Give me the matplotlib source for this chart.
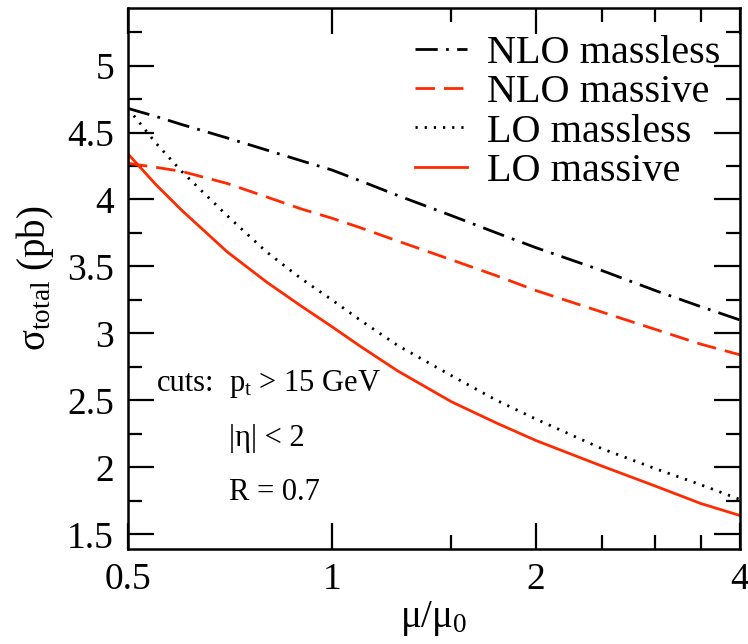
import numpy as np
import matplotlib
matplotlib.use('Agg')
import matplotlib.pyplot as plt
from matplotlib.ticker import FixedLocator, NullFormatter

plt.rcParams['font.family'] = ['Liberation Serif', 'DejaVu Serif']
plt.rcParams['mathtext.fontset'] = 'custom'
plt.rcParams['mathtext.rm'] = 'Liberation Serif'
plt.rcParams['mathtext.it'] = 'Liberation Serif:italic'
plt.rcParams['lines.scale_dashes'] = False

# mu / mu_0
mu_ratio = [0.5, 0.55, 0.6, 0.7, 0.8, 0.9, 1.0, 1.1, 1.25, 1.5, 1.75, 2.0, 2.5, 3.0, 3.5, 4.0]

# sigma_total (pb)
nlo_massless = [4.68, 4.62, 4.56, 4.46, 4.37, 4.29, 4.22, 4.14, 4.03, 3.88, 3.75, 3.64, 3.47, 3.32, 3.20, 3.10]
nlo_massive = [4.27, 4.24, 4.21, 4.12, 4.02, 3.93, 3.86, 3.79, 3.69, 3.55, 3.43, 3.32, 3.16, 3.03, 2.92, 2.84]
lo_massless = [4.68, 4.42, 4.21, 3.88, 3.61, 3.41, 3.25, 3.10, 2.91, 2.685, 2.50, 2.36, 2.14, 1.99, 1.87, 1.76]
lo_massive = [4.34, 4.11, 3.92, 3.61, 3.385, 3.205, 3.05, 2.905, 2.72, 2.49, 2.33, 2.20, 2.01, 1.86, 1.73, 1.64]

red = '#ff2a00'

fig = plt.figure(figsize=(7.48, 6.44), dpi=100)
ax = fig.add_axes([128 / 748, 1 - 549 / 644, 612 / 748, 541 / 644])

ax.plot(mu_ratio, nlo_massless, color='black', lw=2.0, dashes=(16, 6, 2, 6), label='NLO massless')
ax.plot(mu_ratio, nlo_massive, color=red, lw=2.0, dashes=(14, 6.5), label='NLO massive')
ax.plot(mu_ratio, lo_massless, color='black', lw=2.0, dashes=(1.6, 5), label='LO massless')
ax.plot(mu_ratio, lo_massive, color=red, lw=2.0, label='LO massive')

ax.set_xscale('log')
ax.set_xlim(0.5, 4)
ax.set_ylim(1.39, 5.43)
ax.xaxis.set_major_locator(FixedLocator([0.5, 1, 2, 4]))
ax.xaxis.set_minor_locator(FixedLocator([1.5, 2.5, 3, 3.5]))
ax.set_xticklabels(['0.5', '1', '2', '4'])
ax.xaxis.set_minor_formatter(NullFormatter())
ax.yaxis.set_major_locator(FixedLocator([1.5, 2, 2.5, 3, 3.5, 4, 4.5, 5]))
ax.yaxis.set_minor_locator(FixedLocator(np.arange(1.75, 5.4, 0.5)))
ax.set_yticklabels(['1.5', '2', '2.5', '3', '3.5', '4', '4.5', '5'])

ax.tick_params(which='both', direction='in', top=True, right=True, width=1.6, labelsize=27)
ax.tick_params(which='major', length=19, pad=10)
ax.tick_params(which='minor', length=10)
for s in ax.spines.values():
    s.set_linewidth(1.8)

ax.set_xlabel('μ/μ$_{0}$', fontsize=28, labelpad=1)
ax.set_ylabel('σ$_{\\mathrm{total}}$ (pb)', fontsize=28, labelpad=8)

ax.text(0.047, 0.305, 'cuts:', transform=ax.transAxes, fontsize=22, va='center')
ax.text(0.165, 0.305, 'p$_{\\mathrm{t}}$ > 15 GeV', transform=ax.transAxes, fontsize=22, va='center')
ax.text(0.165, 0.205, '|η| < 2', transform=ax.transAxes, fontsize=22, va='center')
ax.text(0.165, 0.105, 'R = 0.7', transform=ax.transAxes, fontsize=22, va='center')

ax.legend(loc='upper right', bbox_to_anchor=(0.995, 0.98), frameon=False, fontsize=29,
          handlelength=1.3, handletextpad=0.5, labelspacing=0.05, borderaxespad=0)

fig.savefig('out.png', dpi=100)
